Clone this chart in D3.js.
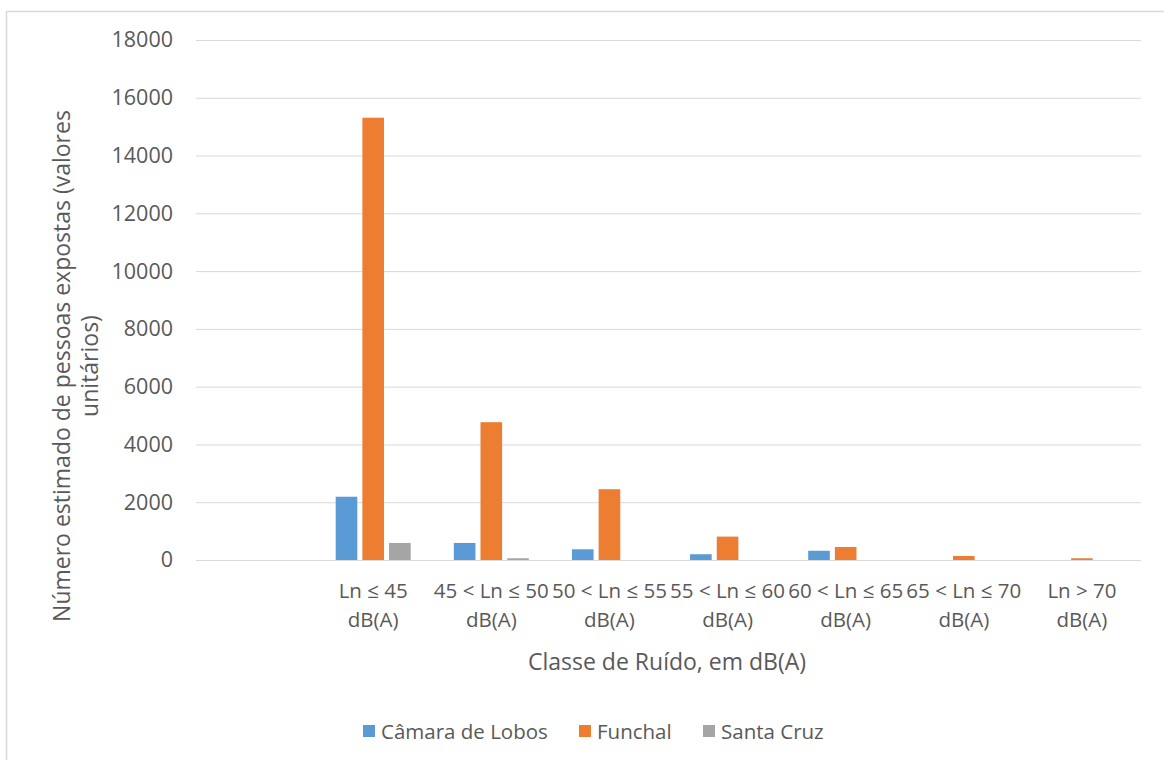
<!DOCTYPE html>
<html>
<head>
<meta charset="utf-8">
<script src="https://cdn.jsdelivr.net/npm/d3@7"></script>
<style>
  html, body { margin: 0; padding: 0; background: #fff; }
  svg { display: block; }
  text { font-family: "Open Sans", "Liberation Sans", sans-serif; fill: #595959; }
</style>
</head>
<body>
<svg id="chart" width="1164" height="760"></svg>
<script>
// Noise classes (first slot is an empty category)
const categories = ["", "Ln ≤ 45 dB(A)", "45 < Ln ≤ 50 dB(A)", "50 < Ln ≤ 55 dB(A)",
  "55 < Ln ≤ 60 dB(A)", "60 < Ln ≤ 65 dB(A)", "65 < Ln ≤ 70 dB(A)", "Ln > 70 dB(A)"];
const seriesNames = ["Câmara de Lobos", "Funchal", "Santa Cruz"];
const camaraDeLobos = [null, 2190, 590, 370, 200, 320, 0, 0];
const funchal       = [null, 15310, 4770, 2450, 810, 450, 140, 60];
const santaCruz     = [null, 590, 60, 0, 0, 0, 0, 0];
const yTicks = [0, 2000, 4000, 6000, 8000, 10000, 12000, 14000, 16000, 18000];
const colors = ["#5B9BD5", "#ED7D31", "#A5A5A5"];

const seriesValues = [camaraDeLobos, funchal, santaCruz];
const rows = [];
categories.forEach((c, i) => {
  seriesNames.forEach((s, j) => {
    if (seriesValues[j][i] !== null) rows.push({ cat: c, series: s, value: seriesValues[j][i] });
  });
});

const svg = d3.select("#chart");
const plotLeft = 196, plotRight = 1141, plotTop = 40, plotBottom = 560;

// Chart frame
svg.append("rect").attr("x", 6.5).attr("y", 11.5).attr("width", 1170).attr("height", 760)
  .attr("fill", "none").attr("stroke", "#d9d9d9").attr("stroke-width", 1.5);

const x = d3.scaleBand().domain(categories).range([plotLeft, plotRight]).padding(0);
const x1 = d3.scaleBand().domain(seriesNames).range([-37.5, 37.5]).paddingInner(0.19);
const y = d3.scaleLinear().domain([0, 18000]).range([plotBottom, plotTop]);

// Gridlines and y tick labels
const yAxis = d3.axisLeft(y).tickValues(yTicks).tickSize(-(plotRight - plotLeft)).tickPadding(23)
  .tickFormat(d3.format("d"));
const gy = svg.append("g").attr("transform", `translate(${plotLeft},0)`).call(yAxis);
gy.select(".domain").remove();
gy.selectAll(".tick line").attr("stroke", "#d9d9d9").attr("stroke-width", 1);
gy.selectAll(".tick text").attr("font-size", 21.5).attr("fill", "#595959")
  .attr("font-family", "\"Open Sans\", sans-serif");

// Bars
svg.append("g").selectAll("rect").data(rows).join("rect")
  .attr("x", d => x(d.cat) + x.bandwidth() / 2 + x1(d.series))
  .attr("width", x1.bandwidth())
  .attr("y", d => y(d.value))
  .attr("height", d => y(0) - y(d.value))
  .attr("fill", d => colors[seriesNames.indexOf(d.series)]);

// Category labels, wrapped on two lines
const xl = svg.append("g");
categories.forEach(c => {
  if (!c) return;
  const lines = [c.replace(" dB(A)", ""), "dB(A)"];
  const t = xl.append("text").attr("text-anchor", "middle").attr("font-size", 20.5);
  lines.forEach((ln, k) => {
    t.append("tspan").attr("x", x(c) + x.bandwidth() / 2).attr("y", 598 + k * 29).text(ln);
  });
});

// Axis titles
svg.append("text").attr("x", 667).attr("y", 670).attr("text-anchor", "middle")
  .attr("font-size", 23).text("Classe de Ruído, em dB(A)");

const yt = svg.append("text").attr("transform", "translate(0,366) rotate(-90)")
  .attr("text-anchor", "middle").attr("font-size", 23);
yt.append("tspan").attr("x", 0).attr("y", 70).text("Número estimado de pessoas expostas (valores");
yt.append("tspan").attr("x", 0).attr("y", 98).text("unitários)");

// Legend
const legendItems = [
  { name: seriesNames[0], sx: 363, tx: 381 },
  { name: seriesNames[1], sx: 579, tx: 597 },
  { name: seriesNames[2], sx: 703, tx: 721 }
];
const lg = svg.append("g");
legendItems.forEach((it, i) => {
  lg.append("rect").attr("x", it.sx).attr("y", 725).attr("width", 12).attr("height", 12)
    .attr("fill", colors[i]);
  lg.append("text").attr("x", it.tx).attr("y", 739).attr("font-size", 20.5).text(it.name);
});
</script>
</body>
</html>
